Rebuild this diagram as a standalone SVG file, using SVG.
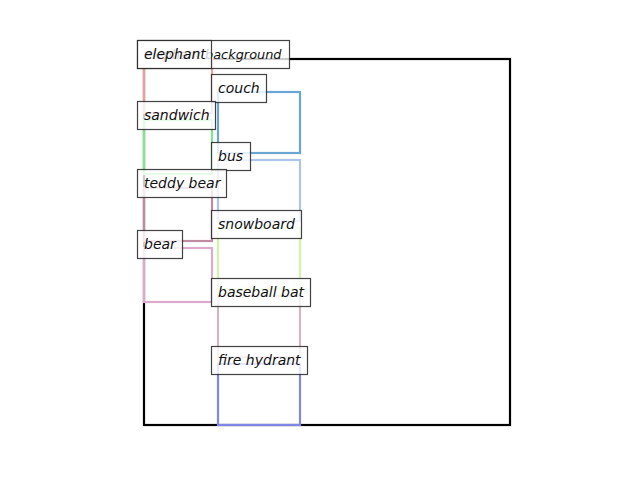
<svg xmlns="http://www.w3.org/2000/svg" width="640" height="480" viewBox="0 0 640 480">
<style>
.r{fill:none;stroke-width:2.2}
.lb rect{fill:#fff;fill-opacity:0.8;stroke:#222;stroke-opacity:0.85;stroke-width:1.2}
.lb text{font-family:"DejaVu Sans",sans-serif;font-style:italic;font-size:14px;fill:#111}
</style>
<rect width="640" height="480" fill="#fff"/>
<g id="connectors">
<rect class="r" x="144" y="59" width="366" height="366" stroke="#000"/>
<rect class="r" x="144" y="59" width="68" height="54" stroke="#eaa0a0"/>
<rect class="r" x="218" y="92" width="82" height="61" stroke="#6aa6d4"/>
<rect class="r" x="144" y="120" width="68" height="54" stroke="#80e88c"/>
<rect class="r" x="218" y="160" width="82" height="61" stroke="#adc4ec"/>
<rect class="r" x="144" y="188" width="68" height="53" stroke="#c08aa2"/>
<rect class="r" x="218" y="228" width="82" height="61" stroke="#d0f7a8"/>
<rect class="r" x="144" y="248" width="68" height="54" stroke="#dcabcb"/>
<rect class="r" x="218" y="296" width="82" height="61" stroke="#cdb7c4"/>
<rect class="r" x="218" y="364" width="82" height="61" stroke="#7e86e6"/>
</g>
<g id="n-background" class="lb"><rect x="137.5" y="40.5" width="152" height="28"/><text x="144" y="59" style="font-size:12.9px">elephant background</text></g>
<g id="n-elephant" class="lb"><rect x="137.5" y="40.5" width="74" height="28"/><text x="144" y="59">elephant</text></g>
<g id="n-couch" class="lb"><rect x="211.5" y="74.5" width="55" height="28"/><text x="218" y="93">couch</text></g>
<g id="n-sandwich" class="lb"><rect x="137.5" y="101.5" width="78" height="28"/><text x="144" y="120">sandwich</text></g>
<g id="n-bus" class="lb"><rect x="211.5" y="142.5" width="39" height="28"/><text x="218" y="161">bus</text></g>
<g id="n-teddy" class="lb"><rect x="137.5" y="169.5" width="89" height="28"/><text x="144" y="188">teddy bear</text></g>
<g id="n-snowboard" class="lb"><rect x="211.5" y="210.5" width="90" height="28"/><text x="218" y="229">snowboard</text></g>
<g id="n-bear" class="lb"><rect x="137.5" y="230.5" width="45" height="28"/><text x="144" y="249">bear</text></g>
<g id="n-bat" class="lb"><rect x="211.5" y="278.5" width="99" height="28"/><text x="218" y="297">baseball bat</text></g>
<g id="n-hydrant" class="lb"><rect x="211.5" y="346.5" width="96" height="28"/><text x="218" y="365">fire hydrant</text></g>
</svg>
